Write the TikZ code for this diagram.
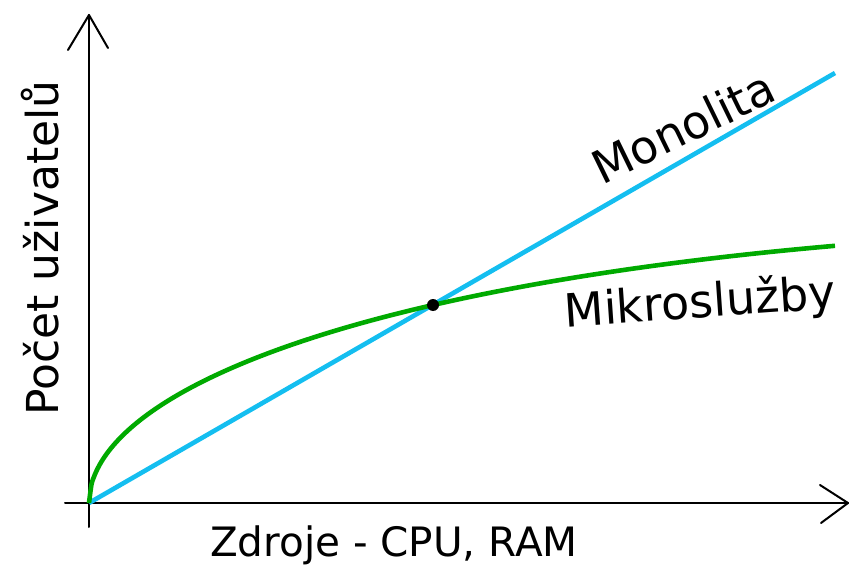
\documentclass[tikz,border=0pt]{standalone}
\usepackage{fontspec}
\setmainfont{DejaVu Sans}
\begin{document}
\begin{tikzpicture}[x=1pt,y=-1pt,
  axis/.style={line width=2pt,black,line cap=round,line join=round},
  curve/.style={line width=4.6pt},
  lbl/.style={inner sep=0pt,font=\fontsize{46}{50}\selectfont}]
\useasboundingbox (0,0) rectangle (849,567);
\definecolor{mono}{RGB}{20,190,240}
\definecolor{micro}{RGB}{0,170,0}

% axes
\coordinate (o) at (89,503);
\coordinate (ytop) at (89,15);
\coordinate (ybot) at (89,527);
\coordinate (xleft) at (65,503);
\coordinate (xtip) at (848,503);
\draw[axis] (ybot) -- (ytop);
\draw[axis] (xleft) -- (xtip);
\draw[axis] (68,50) -- (ytop) -- (108,48);
\draw[axis] (820,485) -- (xtip) -- (821,523);

% linear growth (monolith)
\coordinate (mend) at (835,73);
\draw[mono,curve] (o) -- (mend);
% saturating growth (microservices)
\draw[micro,curve] plot[domain=0:746,samples=300,smooth]
  ({89+\x},{503-sqrt(\x)*(11.75-0.003134*\x)});
\node[circle,fill=black,inner sep=0pt,minimum size=12pt] (cross) at (433,305) {};

% labels
\node[lbl,rotate=26] (monolit) at (683,127) {Monolita};
\node[lbl,rotate=4] (mikro) at (700,304) {Mikroslužby};
\node[lbl,font=\fontsize{40.5}{44}\selectfont] (xlab) at (394,545) {Zdroje - CPU, RAM};
\node[lbl,font=\fontsize{44}{48}\selectfont,rotate=90] (ylab) at (40,248) {Počet uživatelů};
\end{tikzpicture}
\end{document}
